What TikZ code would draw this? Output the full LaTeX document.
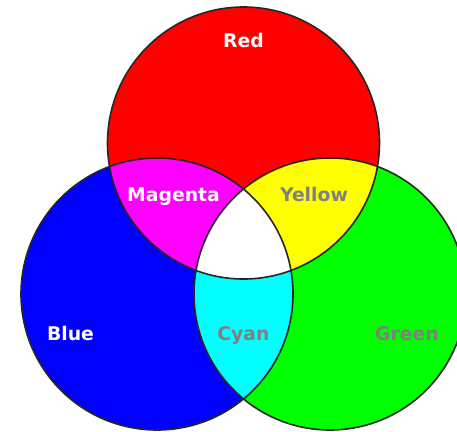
\documentclass[tikz,border=0pt]{standalone}
\usepackage{fontspec}
\setsansfont{DejaVu Sans}
\usetikzlibrary{positioning}
\definecolor{pRed}{RGB}{255,0,0}
\definecolor{pGreen}{RGB}{0,255,0}
\definecolor{pBlue}{RGB}{0,0,255}
\definecolor{pMagenta}{RGB}{255,0,255}
\definecolor{pYellow}{RGB}{255,255,0}
\definecolor{pCyan}{RGB}{0,255,255}
\definecolor{lblGray}{RGB}{128,128,128}

\begin{document}
\begin{tikzpicture}[
  x=1pt, y=-1pt,
  font=\sffamily\bfseries\fontsize{18.8}{21}\selectfont,
  ring/.style={draw=black!85, line width=1.6pt},
  lblw/.style={text=white, anchor=base, inner sep=0pt},
  lblg/.style={text=lblGray, anchor=base, inner sep=0pt},
]
\def\rad{136pt}
\useasboundingbox (0,0) rectangle (457,431);

% --- centros ---
\coordinate (R) at (243.5,143);
\coordinate (B) at (157,294);
\coordinate (G) at (330,294);

% --- colores primarios ---
\fill[pRed]   (R) circle[radius=\rad];
\fill[pBlue]  (B) circle[radius=\rad];
\fill[pGreen] (G) circle[radius=\rad];

% --- mezclas ---
\begin{scope}
  \clip (R) circle[radius=\rad];
  \fill[pMagenta] (B) circle[radius=\rad];
  \fill[pYellow]  (G) circle[radius=\rad];
\end{scope}
\begin{scope}
  \clip (B) circle[radius=\rad];
  \fill[pCyan] (G) circle[radius=\rad];
  \clip (G) circle[radius=\rad];
  \fill[white] (R) circle[radius=\rad];
\end{scope}

% --- bordes ---
\draw[ring] (R) circle[radius=\rad];
\draw[ring] (B) circle[radius=\rad];
\draw[ring] (G) circle[radius=\rad];

% --- etiquetas ---
\node[lblw] (red)  at (243.5,47)  {Red};
\node[lblw] (mag)  at (173.5,201) {Magenta};
\node[lblg] (yel)  at (314,201)   {Yellow};
\node[lblw] (blu)  at (70.5,340)  {Blue};
\node[lblg] (cya)  at (243.5,340) {Cyan};
\node[lblg] (grn)  at (407,340)   {Green};
\end{tikzpicture}
\end{document}
